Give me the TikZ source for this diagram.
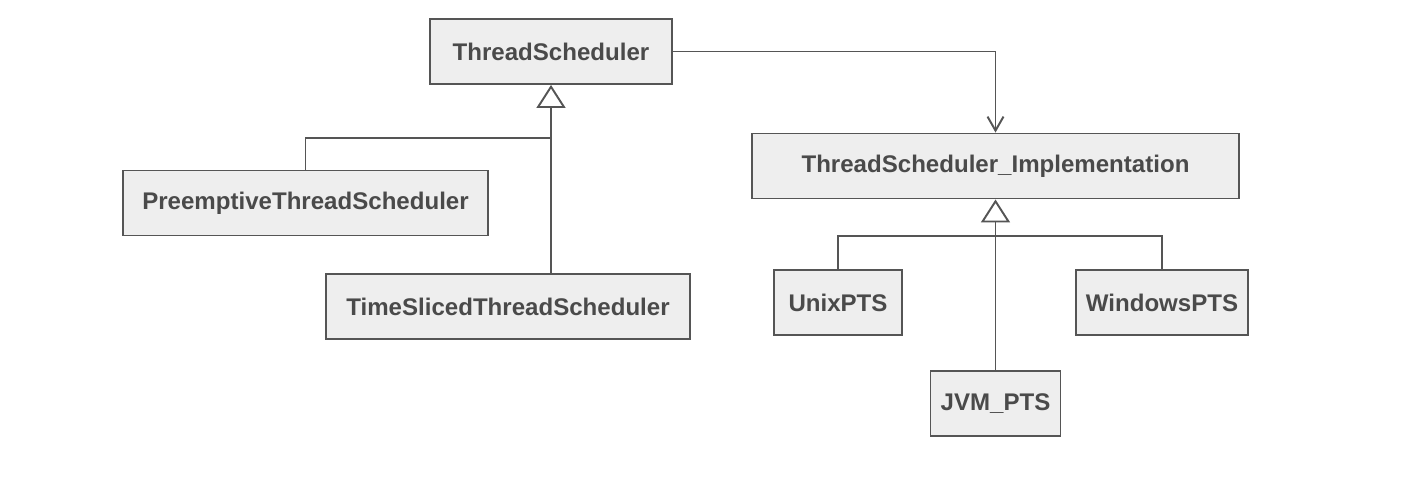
\documentclass[tikz,border=0pt]{standalone}
\usepackage{fontspec}
\setmainfont{Liberation Sans}
\usepackage{xcolor}
\usetikzlibrary{arrows.meta,positioning,calc}

\definecolor{umlline}{HTML}{555555}
\definecolor{umlfill}{HTML}{EEEEEE}
\definecolor{umltext}{HTML}{4A4A4A}

\begin{document}
\begin{tikzpicture}[
    x=0.02cm, y=-0.02cm,
    cls/.style={draw=umlline, fill=umlfill, line width=1.1pt, minimum height=1.3cm,
                text=umltext, font=\fontsize{13.7}{16}\selectfont\bfseries},
    line/.style={draw=umlline, line width=1.1pt},
    arrow/.style={line, -{Straight Barb[length=0.28cm, width=0.32cm, line width=1.1pt]}},
    inherit/.style={line, -{Triangle[open, length=0.46cm, width=0.58cm, line width=1.1pt, fill=white]}}
]
\useasboundingbox (0,0) rectangle (1412,490);

% Abstraction side
\node[cls, minimum width=4.84cm] (ts) at (551,51.5) {ThreadScheduler};
\node[cls, minimum width=7.3cm] (preempt) at (305.5,203) {PreemptiveThreadScheduler};
\node[cls, minimum width=7.28cm] (tsliced) at (508,306.5) {TimeSlicedThreadScheduler};

% Implementation side
\node[cls, minimum width=9.74cm] (impl) at (995.5,166) {ThreadScheduler\_Implementation};
\node[cls, minimum width=2.56cm] (unix) at (838,302.5) {UnixPTS};
\node[cls, minimum width=3.44cm] (windows) at (1162,302.5) {WindowsPTS};
\node[cls, minimum width=2.6cm] (jvm) at (995.5,403.5) {JVM\_PTS};

% Join points
\coordinate (tsjoin) at (ts.south |- 0,138);
\coordinate (impljoin) at (impl.south |- 0,236);

% Bridge
\draw[arrow] (ts.east) -| (impl.north);

% Generalisation
\draw[inherit] (ts.south |- tsliced.north) -- (ts.south);
\draw[line] (preempt.north) |- (tsjoin);
\draw[inherit] (jvm.north) -- (impl.south);
\draw[line] (unix.north) |- (impljoin) -| (windows.north);

\end{tikzpicture}
\end{document}
